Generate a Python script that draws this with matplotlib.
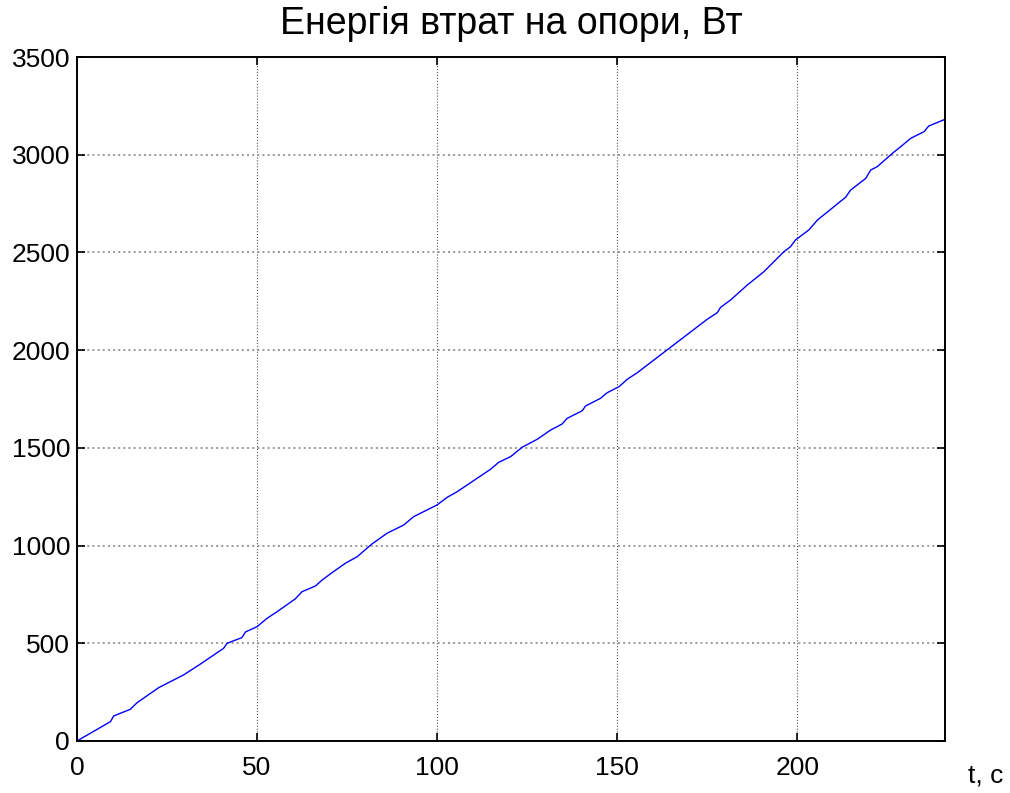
import matplotlib
matplotlib.use('Agg')
import matplotlib.pyplot as plt

plt.rcParams['font.family'] = ['Liberation Sans', 'DejaVu Sans']

# time, s
t = [0, 9.3, 10.2, 14.8, 16.7, 22.7, 29.6, 34.3, 40.7, 41.7, 45.8, 46.8, 50.0,
     52.8, 55.6, 60.6, 62.5, 66.2, 68.1, 70.8, 74.5, 77.8, 81.9, 86.1, 90.7,
     93.5, 100.0, 102.8, 105.6, 114.8, 117.1, 120.4, 123.6, 127.8, 131.5,
     134.7, 136.1, 140.3, 141.2, 145.4, 147.2, 150.5, 152.8, 155.6, 175.0,
     177.8, 178.7, 181.5, 186.1, 190.7, 196.3, 198.1, 199.5, 203.2, 205.6,
     209.3, 211.1, 213.4, 214.8, 219.0, 220.4, 222.2, 226.4, 228.7, 231.5,
     235.2, 236.5, 240.6]
# loss energy
energy = [0, 99, 128, 162, 196, 273, 338, 394, 474, 500, 529, 558, 585,
          628, 662, 727, 764, 793, 824, 861, 909, 943, 1008, 1063, 1105,
          1148, 1208, 1247, 1276, 1390, 1426, 1455, 1503, 1544, 1591,
          1622, 1651, 1690, 1714, 1754, 1782, 1813, 1851, 1885, 2158,
          2192, 2219, 2257, 2333, 2401, 2504, 2529, 2564, 2615, 2666,
          2721, 2748, 2782, 2819, 2879, 2922, 2939, 3007, 3041, 3084,
          3118, 3147, 3178]

fig = plt.figure(figsize=(10.1, 7.93), dpi=100)
ax = fig.add_axes([0.0762, 0.0656, 0.8594, 0.8625])

ax.plot(t, energy, color='#0000ff', linewidth=1.0)

ax.set_xlim(0, 241)
ax.set_ylim(0, 3500)
ax.set_xticks([0, 50, 100, 150, 200])
ax.set_yticks([0, 500, 1000, 1500, 2000, 2500, 3000, 3500])

ax.xaxis.grid(True, color='#555555', linestyle=':', linewidth=0.8)
ax.yaxis.grid(True, color='#999999', linestyle=':', linewidth=1.4)

ax.tick_params(direction='in', length=6, width=1.2, top=True, right=True,
               labelsize=19)
ax.tick_params(axis='x', pad=11)
ax.tick_params(axis='y', pad=5)
for s in ax.spines.values():
    s.set_linewidth(1.4)

# title placed by baseline above the axes
fig.text(0.5059, 0.9567, 'Енергія втрат на опори, Вт', fontsize=27,
         ha='center', va='baseline')
fig.text(0.976, 0.022, 't, c', fontsize=19, ha='center', va='center')

fig.savefig('out.png', dpi=100)
